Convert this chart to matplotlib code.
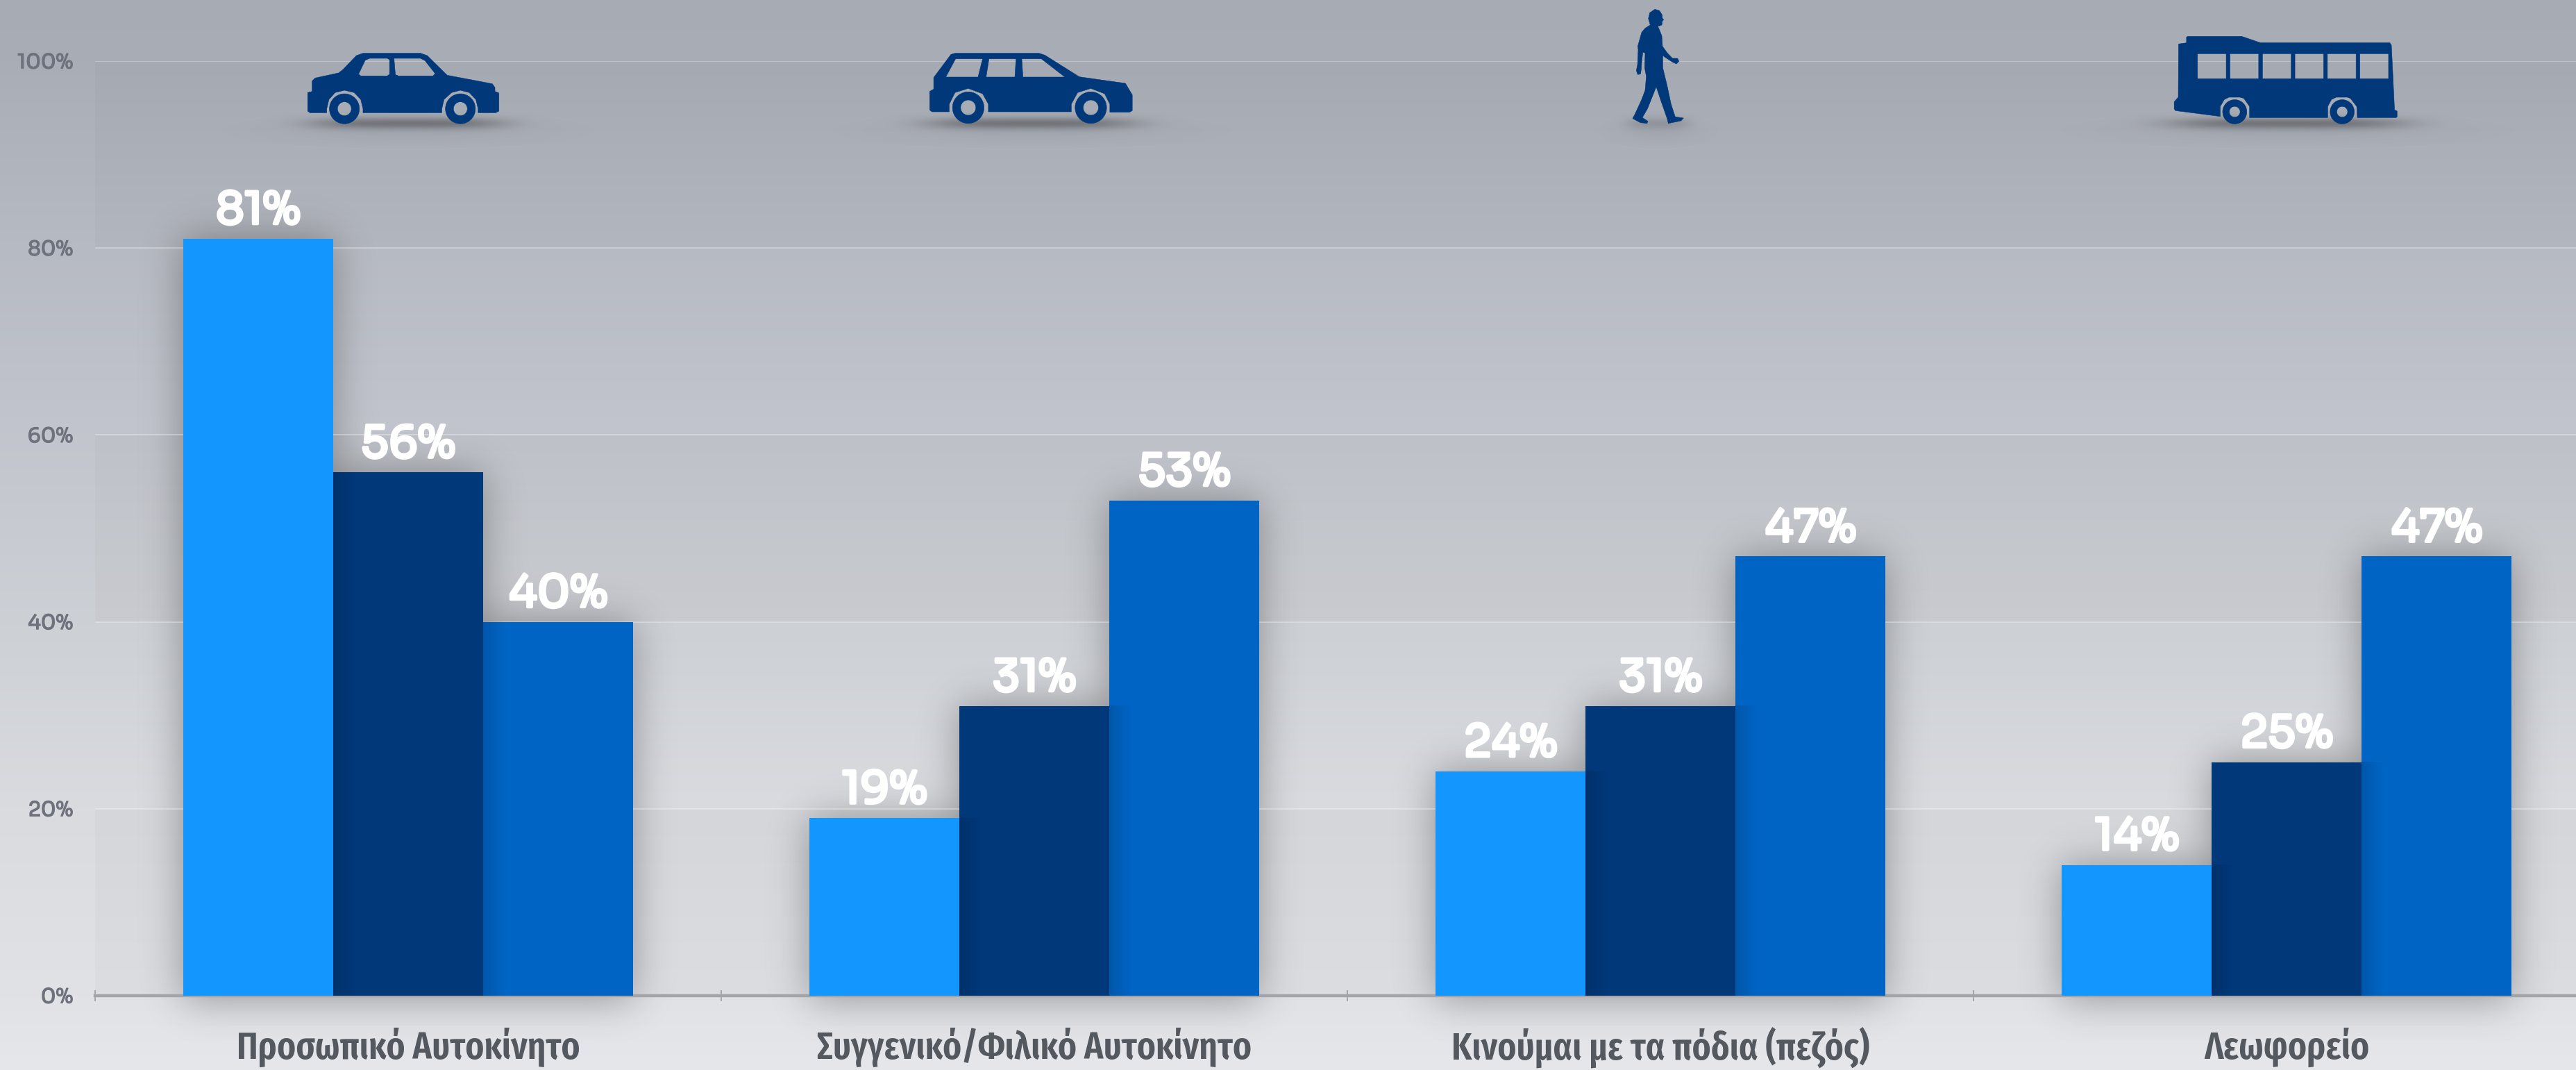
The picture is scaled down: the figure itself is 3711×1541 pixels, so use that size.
import matplotlib
matplotlib.use('Agg')
import logging
import numpy as np
import matplotlib.pyplot as plt
from matplotlib.patches import PathPatch
from matplotlib.path import Path
import matplotlib.patheffects as pe

logging.getLogger('matplotlib.font_manager').setLevel(logging.ERROR)

W, H = 3712, 1541

categories = ['Προσωπικό Αυτοκίνητο', 'Συγγενικό/Φιλικό Αυτοκίνητο',
              'Κινούμαι με τα πόδια (πεζός)', 'Λεωφορείο']
series_light = [81, 19, 24, 14]
series_dark = [56, 31, 31, 25]
series_mid = [40, 53, 47, 47]
y_ticks = [0, 20, 40, 60, 80, 100]

LIGHT, DARK, MID = '#1397ff', '#00387a', '#0064c4'
ICON = '#00387a'
LABEL_FONT = ['Fira Sans Extra Condensed', 'Liberation Sans Narrow', 'DejaVu Sans']
VALUE_FONT = ['Sora', 'Inter', 'DejaVu Sans']

fig = plt.figure(figsize=(W / 100, H / 100), dpi=100)

# background layer, in pixel coordinates
ax_bg = fig.add_axes([0, 0, 1, 1], zorder=0)
ax_bg.set_xlim(0, W)
ax_bg.set_ylim(H, 0)
ax_bg.axis('off')

stops_y = [0, 88, 350, 600, 900, 1165, 1434, 1541]
stops_c = ['#a7abb4', '#a9adb6', '#b6bac2', '#c1c4cc', '#cdd0d5', '#d9dbdf', '#e1e2e6', '#e6e7ea']
rows = np.arange(H)
grad = np.stack([np.interp(rows, stops_y, [matplotlib.colors.to_rgb(c)[i] for c in stops_c])
                 for i in range(3)], axis=1)[:, None, :]
ax_bg.imshow(grad, extent=(0, W, H, 0), aspect='auto', zorder=0)

# chart
ax = fig.add_axes([137 / W, (H - 1434) / H, (W - 137) / W, (1434 - 88) / H], zorder=1)
ax.patch.set_visible(False)
ax.set_xlim(-0.5, 3.463)
ax.set_ylim(0, 100)

x = np.arange(len(categories))
bw = 0.2395
bars_l = ax.bar(x - bw, series_light, bw, color=LIGHT, zorder=3)
bars_d = ax.bar(x, series_dark, bw, color=DARK, zorder=3)
bars_m = ax.bar(x + bw, series_mid, bw, color=MID, zorder=3)

ax.set_yticks(y_ticks)
ax.set_yticklabels([f'{v}%' for v in y_ticks], family=VALUE_FONT, fontsize=21, color='#6e727c',
                   path_effects=[pe.withStroke(linewidth=0.9, foreground='#6e727c')])
ax.tick_params(axis='y', length=0, pad=23)
ax.set_xticks(x)
ax.set_xticklabels(categories, family=LABEL_FONT, fontsize=40, weight='semibold', color='#54585f')
ax.tick_params(axis='x', which='major', length=0, pad=33)
ax.set_xticks(x - 0.5, minor=True)
ax.tick_params(axis='x', which='minor', direction='inout', length=11.5, width=1.4, color='#a4a6a9')
ax.grid(axis='y', color='white', alpha=0.3, lw=1.5, zorder=1)
ax.set_axisbelow(True)
for s in ['left', 'right', 'top']:
    ax.spines[s].set_visible(False)
ax.spines['bottom'].set_color('#a3a5a8')
ax.spines['bottom'].set_linewidth(3.2)

for bars in (bars_l, bars_d, bars_m):
    for b in bars:
        ax.annotate(f'{b.get_height():.0f}%', (b.get_x() + bw / 2, b.get_height()),
                    xytext=(0, 15.5), textcoords='offset points', ha='center', va='baseline',
                    family=VALUE_FONT, fontsize=46, color='white', zorder=5,
                    path_effects=[pe.withStroke(linewidth=3, foreground='white')])

# soft inner shadow on the left side of the two darker bars
fade = np.zeros((1, 32, 4))
fade[0, :, 3] = np.linspace(0.13, 0, 32)
for bars, prev in ((bars_d, bars_l), (bars_m, bars_d)):
    for b, p in zip(bars, prev):
        x0 = b.get_x()
        ax.imshow(fade, extent=(x0, x0 + 0.035, 0, min(b.get_height(), p.get_height())),
                  aspect='auto', zorder=4)
ax.set_xlim(-0.5, 3.463)
ax.set_ylim(0, 100)


def to_px(px, py):
    dx, dy = ax.transData.transform((px, py))
    return dx, H - dy


# alternating bands of the plot area
for lo, hi in ((80, 100), (40, 60), (0, 20)):
    x0, y1 = to_px(-0.5, lo)
    _, y0 = to_px(-0.5, hi)
    ax_bg.fill_between([x0, W], y0, y1, color='black', alpha=0.02, lw=0, zorder=1)

# blurred shadows of the bars and of the icons
mask = np.zeros((H, W))
for bars in (bars_l, bars_d, bars_m):
    for b in bars:
        x0, y0 = to_px(b.get_x(), b.get_height())
        x1, y1 = to_px(b.get_x() + bw, 0)
        mask[int(y0):int(y1) + 6, int(x0):int(x1)] = 1
fy = np.fft.fftfreq(H)[:, None]
fx = np.fft.rfftfreq(W)[None, :]
sigma = 28
blur = np.fft.irfft2(np.fft.rfft2(mask) * np.exp(-2 * (np.pi * sigma) ** 2 * (fx ** 2 + fy ** 2)), s=(H, W))
alpha = np.clip(blur, 0, 1) * 0.37

yy, xx = np.mgrid[0:H, 0:W]
for cx, hw, strength in ((587, 140, 0.36), (1486, 150, 0.36), (2388, 45, 0.14), (3295, 170, 0.36)):
    sub = (yy < 300) & (xx > cx - 2.2 * hw - 60) & (xx < cx + 2.2 * hw + 60)
    core = np.exp(-(np.abs((xx[sub] - cx) / hw) ** 4 + ((yy[sub] - 177) / 8.5) ** 2)) * strength
    wide = np.exp(-(((xx[sub] - cx) / (1.2 * hw)) ** 2 + ((yy[sub] - 188) / 16) ** 2)) * 0.05
    alpha[sub] = 1 - (1 - alpha[sub]) * (1 - core) * (1 - wide)

shade = np.zeros((H, W, 4))
shade[..., :3] = 0.1
shade[..., 3] = alpha
ax_bg.imshow(shade, extent=(0, W, H, 0), aspect='auto', zorder=2)
ax_bg.set_xlim(0, W)
ax_bg.set_ylim(H, 0)

# icons, in pixel coordinates
ax_top = fig.add_axes([0, 0, 1, 1], zorder=2)
ax_top.set_xlim(0, W)
ax_top.set_ylim(H, 0)
ax_top.axis('off')


def oriented(pts, ccw):
    pts = np.asarray(pts, float)
    area = np.sum(pts[:, 0] * np.roll(pts[:, 1], -1) - np.roll(pts[:, 0], -1) * pts[:, 1])
    return pts if (area > 0) == ccw else pts[::-1]


def circle_pts(cx, cy, r):
    t = np.linspace(0, 2 * np.pi, 60, endpoint=False)
    return np.column_stack([cx + r * np.cos(t), cy + r * np.sin(t)])


def draw_icon(outline, holes, wheels, ox, sx, sy):
    conv = lambda pts: [(ox + a / sx, b / sy) for a, b in pts]
    polys = [(conv(outline), True)] + [(conv(h), False) for h in holes]
    for a, b, r, hub in wheels:
        c = conv([(a, b)])[0]
        polys.append((circle_pts(c[0], c[1], r), True))
        polys.append((circle_pts(c[0], c[1], hub), False))
    verts, codes = [], []
    for pts, ccw in polys:
        p = oriented(pts, ccw)
        verts += list(map(tuple, p)) + [tuple(p[0])]
        codes += [Path.MOVETO] + [Path.LINETO] * (len(p) - 1) + [Path.CLOSEPOLY]
    ax_top.add_patch(PathPatch(Path(verts, codes), fc=ICON, ec=ICON, lw=0.4))


car_body = [(695, 400), (705, 395), (705, 350), (712, 337), (765, 315), (775, 300), (805, 240), (820, 230),
            (950, 230), (965, 240), (1010, 325), (1112, 362), (1118, 378), (1118, 395), (1127, 402), (1127, 480),
            (1120, 487), (1080, 487), (1080, 470), (1075, 430), (1060, 400), (1040, 390), (1020, 400), (1003, 430),
            (998, 470), (998, 487), (820, 487), (820, 470), (815, 430), (800, 400), (778, 390), (757, 400),
            (743, 430), (738, 470), (738, 487), (700, 487), (695, 480)]
car_windows = [[(810, 320), (825, 260), (835, 252), (875, 252), (880, 258), (880, 320), (875, 328), (815, 328)],
               [(890, 252), (950, 252), (960, 262), (983, 318), (978, 328), (900, 328), (893, 322)]]
draw_icon(car_body, car_windows, [(778, 470, 21.6, 10), (1040, 470, 21.6, 10)], 0, 1.568, 3)

wagon_body = [(168, 395), (175, 385), (175, 335), (205, 235), (212, 230), (358, 230), (368, 238), (428, 332),
              (508, 360), (520, 410), (520, 478), (515, 485), (481, 485), (481, 450), (472, 405), (448, 382),
              (425, 400), (414, 450), (414, 483), (270, 483), (270, 450), (260, 405), (235, 382), (212, 400),
              (202, 450), (202, 483), (172, 483), (168, 475)]
wagon_windows = [[(213, 254), (260, 254), (252, 333), (196, 333)], [(271, 254), (318, 254), (316, 333), (266, 333)],
                 [(328, 254), (362, 254), (403, 333), (330, 333)]]
draw_icon(wagon_body, wagon_windows, [(235, 465, 22.7, 11), (448, 465, 22.7, 11)], 1200, 1.206, 3)

walker = [(192, 10), (212, 16), (224, 35), (224, 48), (230, 55), (224, 62), (222, 78), (205, 84), (210, 95),
          (222, 125), (225, 170), (245, 198), (268, 222), (290, 222), (296, 235), (285, 246), (268, 238),
          (240, 220), (226, 210), (226, 262), (245, 340), (262, 420), (280, 475), (316, 480), (305, 492),
          (250, 503), (246, 485), (218, 405), (198, 345), (190, 365), (160, 440), (138, 478), (162, 494),
          (158, 503), (130, 500), (96, 482), (105, 465), (135, 400), (150, 360), (155, 300), (148, 262),
          (150, 200), (140, 195), (135, 240), (133, 270), (130, 290), (118, 292), (112, 275), (117, 250),
          (120, 185), (118, 170), (135, 110), (150, 92), (172, 78), (164, 50), (170, 25)]
draw_icon([(a, b + 30) for a, b in walker], [], [], 2320, 3, 3)

bus_body = [(305, 190), (330, 185), (330, 160), (335, 157), (505, 157), (565, 185), (975, 185), (980, 195),
            (990, 475), (998, 480), (998, 505), (995, 508), (872, 508), (870, 460), (850, 425), (840, 420),
            (805, 420), (790, 430), (778, 460), (778, 508), (530, 508), (530, 460), (512, 425), (500, 420),
            (465, 420), (450, 430), (437, 460), (437, 503), (295, 478), (291, 470), (291, 440), (304, 420)]
bus_windows = [[(a, 232), (b, 232), (b, 340), (a, 340)]
               for a, b in ((365, 456), (468, 559), (571, 662), (674, 765), (777, 868), (880, 971))]
draw_icon(bus_body, bus_windows, [(483, 483, 17.4, 7.8), (824, 483, 17.4, 7.8)], 3000, 2.202, 3)

fig.savefig('out.png', dpi=100)
